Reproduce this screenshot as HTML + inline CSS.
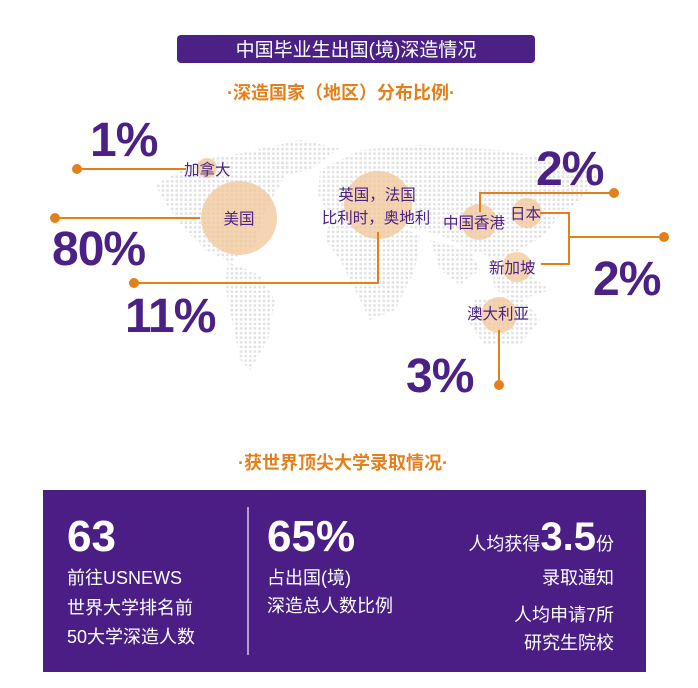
<!DOCTYPE html>
<html><head><meta charset="utf-8"><style>
body{margin:0;background:#fff;}
svg{display:block;font-family:"Liberation Sans","Noto Sans CJK SC",sans-serif;}
</style></head><body>
<svg width="698" height="688" viewBox="0 0 698 688" xmlns="http://www.w3.org/2000/svg">
<defs>
<pattern id="d" width="4.6" height="4.6" patternUnits="userSpaceOnUse"><rect x="0.6" y="0.6" width="2.6" height="2.6" fill="#e2e2e2"/></pattern>
</defs>
<rect x="177" y="35" width="358" height="28" rx="4" fill="#4b2185"/>
<text x="356" y="56" font-size="19" fill="#fff" text-anchor="middle">中国毕业生出国(境)深造情况</text>
<text x="341" y="99" font-size="18" font-weight="bold" fill="#e3801c" text-anchor="middle">·深造国家（地区）分布比例·</text>
<g fill="url(#d)">
<polygon points="155,185 200,160 260,150 290,165 280,185 265,210 255,245 230,262 205,250 185,230 170,210"/>
<polygon points="255,150 300,140 340,148 310,170 285,175"/>
<polygon points="228,262 260,275 275,300 268,340 250,370 240,360 232,320 225,285"/>
<polygon points="320,170 360,150 420,145 500,150 560,160 600,175 580,200 560,215 545,235 520,250 500,260 470,250 440,235 400,225 370,222 330,215 318,195"/>
<polygon points="330,222 380,220 420,235 415,270 395,310 370,320 355,290 340,260 325,240"/>
<polygon points="430,240 470,250 480,270 460,285 440,270"/>
<polygon points="490,270 530,275 550,290 520,300 495,290"/>
<polygon points="475,300 520,295 540,320 520,345 485,345 470,325"/>
</g>
<g fill="#f2c698" opacity="0.75">
<circle cx="207" cy="168" r="10"/>
<ellipse cx="239" cy="218" rx="38" ry="37"/>
<circle cx="378" cy="205" r="34"/>
<circle cx="479" cy="222" r="18"/>
<circle cx="527" cy="213" r="15"/>
<circle cx="517" cy="267" r="15"/>
<circle cx="499" cy="315" r="18"/>
</g>
<g stroke="#e3801c" stroke-width="2" fill="none">
<path d="M77 169H186"/>
<path d="M55 218H200"/>
<path d="M378 232V283H134"/>
<path d="M480 212V193H614"/>
<path d="M540 213H569V264H541M569 237H664"/>
<path d="M499 330V385"/>
</g>
<g fill="#e3801c">
<circle cx="77" cy="169" r="5"/><circle cx="55" cy="218" r="5"/><circle cx="134" cy="283" r="5"/>
<circle cx="614" cy="193" r="5"/><circle cx="664" cy="237" r="5"/><circle cx="499" cy="385" r="5"/>
</g>
<g fill="#4b2185" font-size="15.5">
<text x="184" y="175">加拿大</text>
<text x="239" y="224" text-anchor="middle">美国</text>
<text x="377" y="200" text-anchor="middle">英国，法国</text>
<text x="376" y="223" text-anchor="middle">比利时，奥地利</text>
<text x="443" y="228">中国香港</text>
<text x="510" y="219">日本</text>
<text x="489" y="273">新加坡</text>
<text x="467" y="319">澳大利亚</text>
</g>
<g fill="#4b2185" font-size="48" font-weight="bold" letter-spacing="-1">
<text x="90" y="156">1%</text>
<text x="52" y="265">80%</text>
<text x="125" y="332">11%</text>
<text x="536" y="185">2%</text>
<text x="593" y="295">2%</text>
<text x="406" y="392">3%</text>
</g>
<text x="343" y="469" font-size="18" font-weight="bold" fill="#e3801c" text-anchor="middle">·获世界顶尖大学录取情况·</text>
<rect x="43" y="490" width="603" height="182" fill="#4b1e86"/>
<line x1="248" y1="507" x2="248" y2="655" stroke="#d8cce8" stroke-width="1.5"/>
<g fill="#fff">
<text x="67" y="551" font-size="44" font-weight="bold">63</text>
<text x="67" y="584" font-size="18">前往USNEWS</text>
<text x="67" y="614" font-size="18">世界大学排名前</text>
<text x="67" y="643" font-size="18">50大学深造人数</text>
<text x="267" y="551" font-size="44" font-weight="bold">65%</text>
<text x="267" y="584" font-size="18">占出国(境)</text>
<text x="267" y="612" font-size="18">深造总人数比例</text>
<text x="614" y="550" font-size="18" text-anchor="end">人均获得<tspan font-size="40" font-weight="bold">3.5</tspan>份</text>
<text x="614" y="584" font-size="18" text-anchor="end">录取通知</text>
<text x="614" y="621" font-size="18" text-anchor="end">人均申请7所</text>
<text x="614" y="649" font-size="18" text-anchor="end">研究生院校</text>
</g>
</svg>
</body></html>
